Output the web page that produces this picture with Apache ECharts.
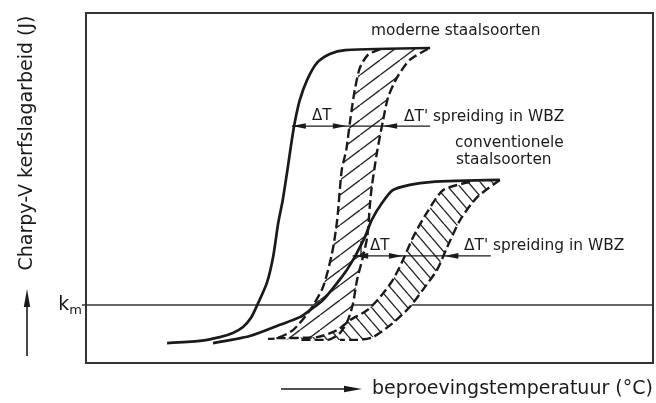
<!DOCTYPE html>
<html><head><meta charset="utf-8">
<script src="https://cdn.jsdelivr.net/npm/echarts@6/dist/echarts.min.js"></script>
<style>html,body{margin:0;padding:0;background:#fff}#c{width:656px;height:403px}</style>
</head><body><div id="c"></div>
<script>
// abstract units: temperature 0..100, impact energy 0..100
const modernSolid = [[14.3,5.7],[20.1,6.3],[23.6,7.4],[25.9,8.6],[27.7,10.3],[29.1,12.9],[30.3,16.9],[31.9,22.9],[33.0,30.3],[33.9,40.0],[34.7,46.6],[35.6,56.0],[36.3,63.7],[36.9,69.4],[37.7,75.1],[39.0,80.9],[40.7,85.7],[43.0,88.3],[45.7,89.4],[60.7,90.0]];
const modernBandLeft = [[51.9,89.7],[49.7,88.0],[48.3,84.3],[47.4,78.0],[46.6,69.4],[45.9,60.9],[45.1,55.1],[44.3,40.9],[43.4,31.4],[41.8,21.7],[39.5,15.1],[36.5,9.4],[33.7,7.1],[32.1,6.9]];
const modernBandRight = [[60.3,89.7],[57.1,86.6],[54.9,81.7],[53.3,76.0],[52.4,69.4],[51.3,60.0],[50.4,50.3],[50.1,45.7],[49.6,36.0],[48.7,29.4],[47.8,23.7],[47.1,17.1],[46.2,12.3],[44.8,8.6],[42.5,6.6],[37.7,6.6]];
const convSolid = [[22.4,5.7],[28.9,7.7],[34.2,10.9],[37.7,13.1],[39.5,15.1],[41.8,18.0],[44.3,22.9],[46.0,26.6],[47.4,30.3],[48.3,33.1],[49.2,36.0],[50.4,40.9],[52.2,45.7],[54.1,49.4],[57.1,50.9],[60.7,51.7],[73.0,52.3]];
const convBandLeft = [[67.7,51.7],[63.0,49.4],[60.1,42.9],[57.7,36.0],[55.9,29.4],[54.1,23.7],[51.9,18.9],[49.6,15.1],[46.6,12.3],[44.3,9.4],[40.7,7.4],[33.0,7.1]];
const convBandRight = [[73.0,52.3],[69.0,47.4],[66.0,40.9],[63.7,33.1],[61.9,26.6],[59.4,20.9],[57.1,16.0],[54.1,11.4],[50.6,7.4],[47.8,6.6],[44.8,6.6]];
const KM = 16.6;
const modernMeasure = [[36.3,67.7],[60.7,67.7]];
const convMeasure = [[47.0,30.6],[71.4,30.6]];
const convTick = [[48.5,30.6],[48.5,34.9]];
// arrow tips: [temperature, energy, direction (-1 left, 1 right)]
const measureArrows = [[36.3,67.7,-1],[46.0,67.7,1],[52.4,67.7,-1],[47.3,30.6,-1],[55.9,30.6,1],[63.2,30.6,-1]];
const yTitle = 'Charpy-V kerfslagarbeid (J)';
const xTitle = 'beproevingstemperatuur (°C)';

const INK = '#1a1a1a';
const FONT = 'DejaVu Sans';

function makePattern(w, h, dir) {
  const c = document.createElement('canvas');
  c.width = w; c.height = h;
  const g = c.getContext('2d');
  g.fillStyle = '#fff'; g.fillRect(0, 0, w, h);
  g.strokeStyle = '#2a2a2a'; g.lineWidth = 1.4;
  g.beginPath();
  for (const dx of [-w, 0, w]) {
    if (dir > 0) { g.moveTo(dx, h); g.lineTo(dx + w, 0); }
    else { g.moveTo(dx, 0); g.lineTo(dx + w, h); }
  }
  g.stroke();
  return c;
}
const patModern = makePattern(20, 15, 1);
const patConv = makePattern(12, 14, -1);

function bandSeries(left, right, pat) {
  return {
    type: 'custom', coordinateSystem: 'cartesian2d', z: 3, silent: true, data: [[0, 0]],
    renderItem: (params, api) => {
      const pts = left.concat(right.slice().reverse()).map(p => api.coord(p));
      return { type: 'polygon', shape: { points: pts }, style: { fill: { image: pat, repeat: 'repeat' }, stroke: null } };
    }
  };
}
function lineSeries(data, opts) {
  return Object.assign({
    type: 'line', data: data, symbol: 'none', silent: true, smooth: 0.25,
    lineStyle: { color: INK, width: 2.7 }, z: 5
  }, opts || {});
}
const dashed = { color: INK, width: 2.4, type: [9, 4] };

const chart = echarts.init(document.getElementById('c'), null, { renderer: 'canvas' });
chart.setOption({
  animation: false,
  backgroundColor: '#fff',
  grid: { left: 86, top: 13, width: 567, height: 350, show: true, borderColor: '#333', borderWidth: 2, backgroundColor: 'transparent' },
  xAxis: { type: 'value', min: 0, max: 100, axisLine: { show: false }, axisTick: { show: false }, axisLabel: { show: false }, splitLine: { show: false } },
  yAxis: {
    type: 'value', min: 0, max: 100, axisLine: { show: false }, splitLine: { show: false },
    axisTick: { show: true, customValues: [KM], length: 4, lineStyle: { color: '#333', width: 1.5 } },
    axisLabel: {
      customValues: [KM], margin: 4, formatter: () => '{k|k}{m|m}',
      rich: {
        k: { fontFamily: FONT, fontSize: 19, color: INK, lineHeight: 24, verticalAlign: 'middle' },
        m: { fontFamily: FONT, fontSize: 13, color: INK, lineHeight: 24, verticalAlign: 'bottom', padding: [9, 0, 0, 0] }
      }
    }
  },
  series: [
    lineSeries([[0, KM], [100, KM]], { smooth: false, lineStyle: { color: '#333', width: 1.5 }, z: 1 }),
    bandSeries(modernBandLeft, modernBandRight, patModern),
    bandSeries(convBandLeft, convBandRight, patConv),
    lineSeries(modernBandLeft, { lineStyle: dashed, z: 4 }),
    lineSeries(modernBandRight, { lineStyle: dashed, z: 4 }),
    lineSeries(convBandLeft, { lineStyle: dashed, z: 4 }),
    lineSeries(convBandRight, { lineStyle: dashed, z: 4 }),
    lineSeries(modernSolid),
    lineSeries(convSolid),
    lineSeries(modernMeasure, { smooth: false, lineStyle: { color: INK, width: 1.3 }, z: 6 }),
    lineSeries(convMeasure, { smooth: false, lineStyle: { color: INK, width: 1.3 }, z: 6 }),
    lineSeries(convTick, { smooth: false, lineStyle: { color: INK, width: 1.3 }, z: 6 }),
    {
      type: 'custom', coordinateSystem: 'cartesian2d', z: 7, silent: true, data: measureArrows,
      encode: { x: 0, y: 1 },
      renderItem: (params, api) => {
        const p = api.coord([api.value(0), api.value(1)]);
        const d = api.value(2), L = 14, W = 2.8;
        return { type: 'polygon', shape: { points: [[p[0], p[1]], [p[0] - d * L, p[1] - W], [p[0] - d * L, p[1] + W]] }, style: { fill: INK } };
      }
    }
  ],
  graphic: [
    { type: 'text', x: 371, y: 31, style: { text: 'moderne staalsoorten', font: '15.4px ' + FONT, fill: INK, textVerticalAlign: 'middle' } },
    { type: 'text', x: 455, y: 143, style: { text: 'conventionele', font: '15.4px ' + FONT, fill: INK, textVerticalAlign: 'middle' } },
    { type: 'text', x: 456, y: 160, style: { text: 'staalsoorten', font: '15.4px ' + FONT, fill: INK, textVerticalAlign: 'middle' } },
    { type: 'text', x: 312, y: 116, style: { text: 'ΔT', font: '15px ' + FONT, fill: INK, textVerticalAlign: 'middle' } },
    { type: 'text', x: 404, y: 117, style: { text: "ΔT' spreiding in WBZ", font: '15.4px ' + FONT, fill: INK, textVerticalAlign: 'middle' } },
    { type: 'text', x: 370, y: 246, style: { text: 'ΔT', font: '15px ' + FONT, fill: INK, textVerticalAlign: 'middle' } },
    { type: 'text', x: 464, y: 246, style: { text: "ΔT' spreiding in WBZ", font: '15.4px ' + FONT, fill: INK, textVerticalAlign: 'middle' } },
    { type: 'text', x: 27, y: 143, rotation: Math.PI / 2, style: { text: yTitle, font: '19px ' + FONT, fill: INK, textAlign: 'center', textVerticalAlign: 'middle' } },
    { type: 'line', shape: { x1: 27, y1: 356, x2: 27, y2: 304 }, style: { stroke: INK, lineWidth: 1.6 } },
    { type: 'polygon', shape: { points: [[27, 289], [23.8, 307], [30.2, 307]] }, style: { fill: INK } },
    { type: 'text', x: 372, y: 389, style: { text: xTitle, font: '19px ' + FONT, fill: INK, textVerticalAlign: 'middle' } },
    { type: 'line', shape: { x1: 281, y1: 389, x2: 346, y2: 389 }, style: { stroke: INK, lineWidth: 1.6 } },
    { type: 'polygon', shape: { points: [[362, 389], [344, 385.8], [344, 392.2]] }, style: { fill: INK } }
  ]
});
</script></body></html>
